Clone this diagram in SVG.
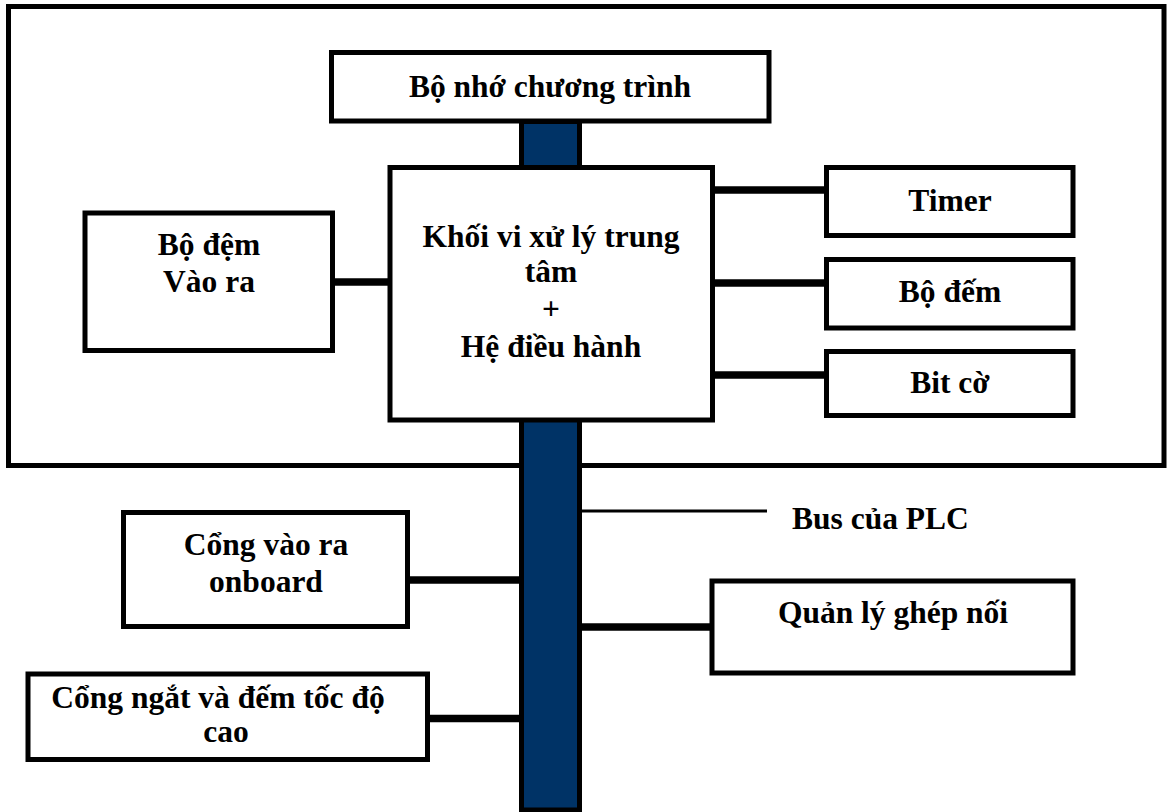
<svg xmlns="http://www.w3.org/2000/svg" width="1169" height="812" viewBox="0 0 1169 812">
<style>
.box{fill:#fff;stroke:#000;stroke-width:5}
.frame{fill:none;stroke:#000;stroke-width:5}
.bus{fill:#003366;stroke:#000;stroke-width:5}
.conn{stroke:#000;stroke-width:7.5;fill:none}
.thin{stroke:#000;stroke-width:3;fill:none}
text{font-family:"Liberation Serif","Times New Roman",serif;font-weight:bold;font-size:31.5px;fill:#000;text-anchor:middle}
</style>
<rect x="0" y="0" width="1169" height="812" fill="#fff"/>
<rect id="frame" class="frame" x="8.5" y="6.5" width="1155.5" height="459"/>
<g id="connectors">
  <line class="conn" x1="332" y1="282" x2="391" y2="282"/>
  <line class="conn" x1="711" y1="190" x2="827" y2="190"/>
  <line class="conn" x1="711" y1="283" x2="827" y2="283"/>
  <line class="conn" x1="711" y1="375" x2="827" y2="375"/>
  <line class="conn" x1="407" y1="580" x2="521" y2="580"/>
  <line class="conn" x1="427" y1="718.5" x2="521" y2="718.5"/>
  <line class="conn" x1="581" y1="627" x2="713" y2="627"/>
  <line class="thin" x1="581" y1="511" x2="767" y2="511"/>
</g>
<g id="bus">
  <rect class="bus" x="521.5" y="121.5" width="58" height="688.5"/>
</g>
<g id="program-memory">
  <rect class="box" x="331.5" y="52.5" width="437.5" height="68.5"/>
  <text x="550" y="97">Bộ nhớ chương trình</text>
</g>
<g id="cpu">
  <rect class="box" x="390" y="167.5" width="322.5" height="252.5"/>
  <text x="551" y="247">Khối vi xử lý trung</text>
  <text x="551" y="282">tâm</text>
  <text x="551" y="319">+</text>
  <text x="551" y="357">Hệ điều hành</text>
</g>
<g id="io-buffer">
  <rect class="box" x="85" y="213" width="247.5" height="137.5"/>
  <text x="209" y="255">Bộ đệm</text>
  <text x="209" y="292">Vào ra</text>
</g>
<g id="timer">
  <rect class="box" x="826.5" y="167.5" width="246.5" height="68"/>
  <text x="950" y="211">Timer</text>
</g>
<g id="counter">
  <rect class="box" x="826.5" y="259.5" width="246.5" height="68.5"/>
  <text x="950" y="302">Bộ đếm</text>
</g>
<g id="flag-bits">
  <rect class="box" x="826.5" y="351.5" width="246.5" height="64"/>
  <text x="950" y="393">Bit cờ</text>
</g>
<g id="bus-label">
  <text x="792" y="529" style="text-anchor:start">Bus của PLC</text>
</g>
<g id="onboard-io">
  <rect class="box" x="123.5" y="512.5" width="284" height="114"/>
  <text x="266" y="555">Cổng vào ra</text>
  <text x="266" y="592">onboard</text>
</g>
<g id="interface-mgmt">
  <rect class="box" x="712" y="581" width="361" height="92"/>
  <text x="893" y="623">Quản lý ghép nối</text>
</g>
<g id="high-speed">
  <rect class="box" x="28" y="674" width="399.5" height="85.5"/>
  <text x="218" y="708">Cổng ngắt và đếm tốc độ</text>
  <text x="226" y="742">cao</text>
</g>
</svg>
